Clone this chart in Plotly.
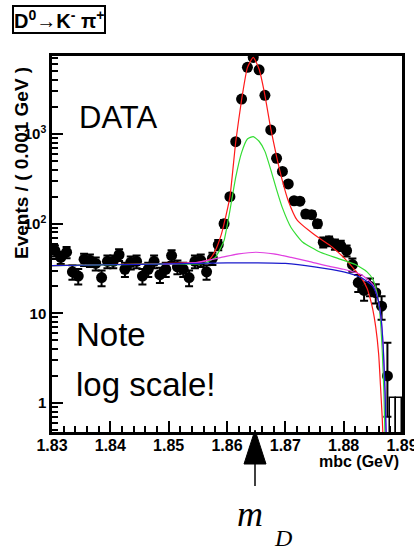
import plotly.graph_objects as go

# ---------------- data ----------------
bin_centers = [round(1.8305 + 0.001 * i, 4) for i in range(58)]
counts = [50, 42, 48, 29, 26, 40, 39, 36, 25, 38,
          38, 45, 31, 37, 38, 26, 31, 38, 27, 31,
          44, 33, 31, 25, 38, 39, 29, 41, 58, 100,
          200, 820, 2450, 5550, 7150, 5200, 2700, 1110, 535, 382,
          277, 180, 178, 128, 126, 100, 62, 64, 59, 57,
          50, 35, 22, 18, 20, 17, 12, 2]
err_up = [7.1, 6.5, 6.9, 5.4, 5.1, 6.3, 6.2, 6.0, 5.0, 6.2,
          6.2, 6.7, 5.6, 6.1, 6.2, 5.1, 5.6, 6.2, 5.2, 5.6,
          6.6, 5.7, 5.6, 5.0, 6.2, 6.2, 5.4, 6.4, 7.6, 10.0,
          14.1, 28.6, 49.5, 74.5, 84.6, 72.1, 52.0, 33.3, 23.1, 19.5,
          16.6, 13.4, 13.3, 11.3, 11.2, 10.0, 7.9, 8.0, 7.7, 7.5,
          7.1, 5.9, 4.7, 4.2, 4.5, 4.1, 3.5, 2.7]
err_dn = err_up[:-1] + [1.3]

zero_bins = [1.8885, 1.8895]
zero_bin_upper = [1.15, 1.15]

# fitted curves
red_x = [1.830, 1.840, 1.850, 1.855, 1.857, 1.858, 1.859, 1.8595, 1.8605, 1.8615, 1.8625,
         1.8635, 1.8645, 1.8655, 1.8665, 1.8675, 1.8685, 1.8695, 1.8705, 1.872, 1.875,
         1.878, 1.880, 1.882, 1.883, 1.884, 1.8845, 1.885, 1.8855, 1.886, 1.8863, 1.8866, 1.8868]
red_y = [34, 35, 36, 37, 40, 50, 75, 100, 200, 820, 2400,
         5500, 7150, 5300, 2700, 1150, 560, 300, 180, 110, 75,
         55, 42, 30, 25, 19, 15, 11, 7, 3.5, 1.6, 0.7, 0.35]

green_x = [1.830, 1.850, 1.856, 1.858, 1.859, 1.8595, 1.8605, 1.8615, 1.8625, 1.8635,
           1.8645, 1.8655, 1.8665, 1.8675, 1.8685, 1.8695, 1.871, 1.873, 1.876, 1.879,
           1.882, 1.884, 1.885, 1.8857, 1.8862, 1.8866, 1.8869, 1.8871]
green_y = [34, 35.5, 36, 42, 55, 65, 140, 330, 620, 880,
           935, 830, 640, 400, 240, 150, 90, 62, 48, 41,
           35, 29, 24, 17, 10, 4, 1.3, 0.4]

blue_x = [1.830, 1.840, 1.850, 1.860, 1.865, 1.870, 1.875, 1.880, 1.883, 1.885,
          1.8858, 1.8864, 1.8868, 1.8871, 1.8873]
blue_y = [34, 34.8, 35.5, 36.5, 36.5, 36, 33, 29, 25, 20,
          15, 9, 4, 1.3, 0.4]

mag_x = [1.849, 1.855, 1.859, 1.862, 1.865, 1.868, 1.871, 1.874, 1.877, 1.880,
         1.883, 1.885, 1.8858, 1.8864, 1.8868, 1.8871, 1.8873]
mag_y = [35.3, 37, 42, 46, 48, 46, 42, 38, 34, 31,
         27, 21, 15, 9, 4, 1.3, 0.4]

x_ticks = [1.83, 1.84, 1.85, 1.86, 1.87, 1.88, 1.89]
x_ticktext = ["1.83", "1.84", "1.85", "1.86", "1.87", "1.88", "1.89"]
y_ticks = [1, 10, 100, 1000]
y_ticktext = ["1", "10", "10<sup>2</sup>", "10<sup>3</sup>"]
y_minor_ticks = [0.5, 0.6, 0.7, 0.8, 0.9,
                 2, 3, 4, 5, 6, 7, 8, 9,
                 20, 30, 40, 50, 60, 70, 80, 90,
                 200, 300, 400, 500, 600, 700, 800, 900,
                 2000, 3000, 4000, 5000, 6000, 7000]

arrow_x = 1.8648

# ---------------- figure ----------------
fig = go.Figure()

fig.add_trace(go.Bar(x=zero_bins, y=zero_bin_upper, width=0.001,
                     marker=dict(color="white", line=dict(color="black", width=1.5)),
                     showlegend=False))

fig.add_trace(go.Scatter(
    x=bin_centers, y=counts, mode="markers",
    marker=dict(color="black", size=11),
    error_y=dict(type="data", array=err_up, arrayminus=err_dn, symmetric=False,
                 color="black", thickness=2, width=4),
    showlegend=False))

line_style = dict(shape="spline", smoothing=0.5, width=1.2)
fig.add_trace(go.Scatter(x=red_x, y=red_y, mode="lines",
                         line=dict(color="#ff1a1a", **line_style), showlegend=False))
fig.add_trace(go.Scatter(x=green_x, y=green_y, mode="lines",
                         line=dict(color="#33dd33", **line_style), showlegend=False))
fig.add_trace(go.Scatter(x=mag_x, y=mag_y, mode="lines",
                         line=dict(color="#e040e0", **line_style), showlegend=False))
fig.add_trace(go.Scatter(x=blue_x, y=blue_y, mode="lines",
                         line=dict(color="#1a1acc", **line_style), showlegend=False))

bold = dict(family="Liberation Sans, Arial", color="black", weight="bold")
yr = [-0.324, 3.87]

fig.update_layout(
    width=414, height=550,
    margin=dict(l=52, r=12, t=56, b=118),
    paper_bgcolor="white", plot_bgcolor="white",
    bargap=0,
    xaxis=dict(range=[1.83, 1.89], tickvals=x_ticks, ticktext=x_ticktext,
               ticks="inside", ticklen=11, tickwidth=1.5, tickcolor="black",
               minor=dict(ticks="inside", ticklen=6, tickwidth=1.5, dtick=0.002, tickcolor="black"),
               showline=True, linewidth=2.5, linecolor="black", mirror=True,
               showgrid=False, zeroline=False, ticklabeloverflow="allow",
               ticklabelstandoff=-3, automargin=False,
               tickfont=dict(size=16, **bold)),
    yaxis=dict(type="log", range=yr, tickvals=y_ticks, ticktext=y_ticktext,
               ticks="inside", ticklen=11, tickwidth=1.5, tickcolor="black",
               showline=True, linewidth=2.5, linecolor="black", mirror=True,
               showgrid=False, zeroline=False, automargin=False,
               tickfont=dict(size=15, **bold)),
    yaxis2=dict(type="log", range=yr, overlaying="y", side="left", tickvals=y_minor_ticks,
                ticks="inside", ticklen=6, tickwidth=1.5, tickcolor="black", automargin=False,
                showticklabels=False, showgrid=False, zeroline=False, showline=False),
)
# dummy trace to activate the minor-tick axis
fig.add_trace(go.Scatter(x=[None], y=[None], yaxis="y2", showlegend=False, hoverinfo="skip"))

ann = []
ann.append(dict(text="D<sup>0</sup>→K<sup>-</sup> π<sup>+</sup>", xref="paper", yref="paper",
                x=(12 - 52) / 350, y=(432 - 19) / 376, xanchor="left", yanchor="middle",
                showarrow=False, font=dict(size=20, **bold), bordercolor="black", borderwidth=2,
                borderpad=0, bgcolor="white"))
ann.append(dict(text="Events / ( 0.001 GeV )", xref="paper", yref="paper", textangle=-90,
                x=(21 - 52) / 350, y=(432 - 163) / 376, xanchor="center", yanchor="middle",
                showarrow=False, font=dict(size=19, **bold)))
ann.append(dict(text="mbc (GeV)", xref="paper", yref="paper",
                x=(317 - 52) / 350, y=(432 - 461) / 376, xanchor="left", yanchor="middle",
                showarrow=False, font=dict(size=16, **bold)))
plain = dict(family="Liberation Sans, Arial", color="black")
ann.append(dict(text="DATA", xref="paper", yref="paper", x=(77 - 52) / 350, y=(432 - 117) / 376,
                xanchor="left", yanchor="middle", showarrow=False, font=dict(size=31, **plain)))
ann.append(dict(text="Note", xref="paper", yref="paper", x=(74 - 52) / 350, y=(432 - 334) / 376,
                xanchor="left", yanchor="middle", showarrow=False, font=dict(size=33, **plain)))
ann.append(dict(text="log scale!", xref="paper", yref="paper", x=(74 - 52) / 350, y=(432 - 384) / 376,
                xanchor="left", yanchor="middle", showarrow=False, font=dict(size=33, **plain)))
serif = dict(family="Liberation Serif, Times New Roman", color="black")
ann.append(dict(text="<i>m</i>", xref="paper", yref="paper", x=(235 - 52) / 350, y=(432 - 514) / 376,
                xanchor="left", yanchor="middle", showarrow=False, font=dict(size=36, **serif)))
ann.append(dict(text="<i>D</i>", xref="paper", yref="paper", x=(272 - 52) / 350, y=(432 - 538) / 376,
                xanchor="left", yanchor="middle", showarrow=False, font=dict(size=24, **serif)))
fig.update_layout(annotations=ann)

# arrow pointing at the D mass
hw = 11 / 350 * 0.06
fig.add_shape(type="path", xref="x", yref="paper",
              path=f"M {arrow_x},{(432-430)/376} L {arrow_x-hw},{(432-464)/376} L {arrow_x+hw},{(432-464)/376} Z",
              fillcolor="black", line=dict(color="black", width=1))
fig.add_shape(type="line", xref="x", yref="paper", x0=arrow_x, x1=arrow_x,
              y0=(432 - 464) / 376, y1=(432 - 486) / 376, line=dict(color="black", width=1.5))

fig.write_html("out.html")
